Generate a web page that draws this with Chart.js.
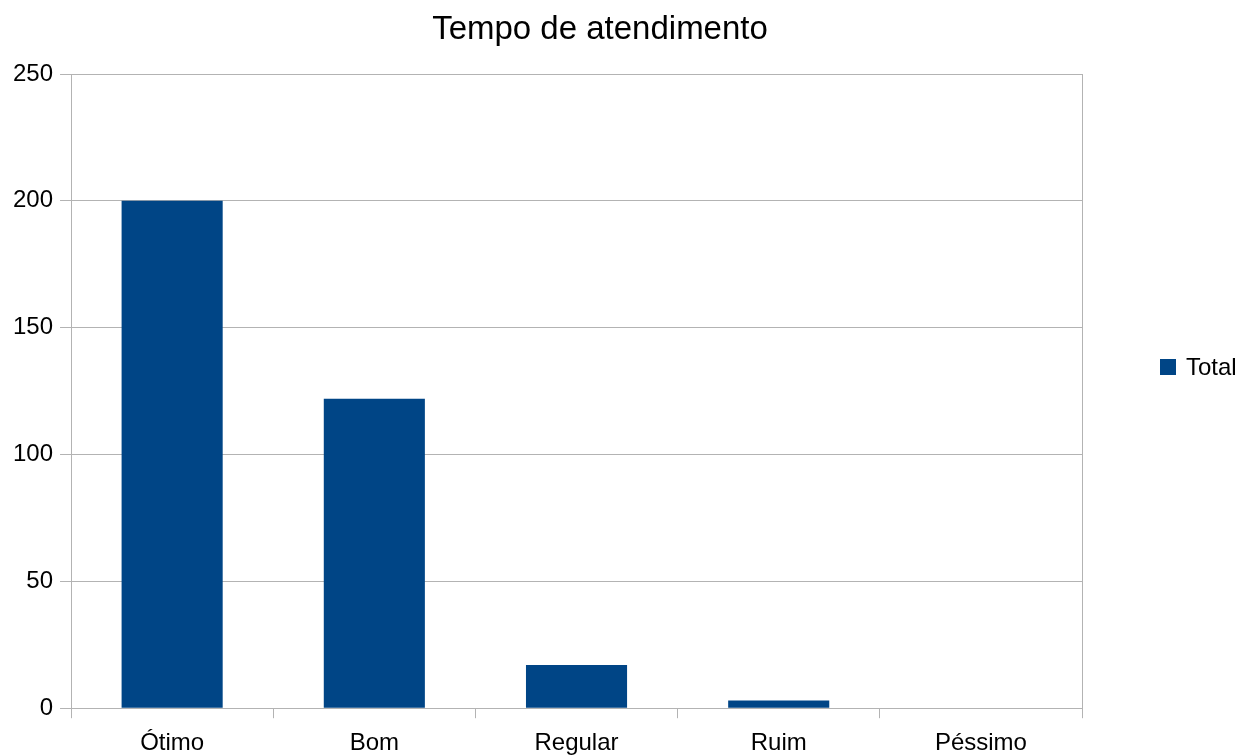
<!DOCTYPE html>
<html>
<head>
<meta charset="utf-8">
<script src="https://cdn.jsdelivr.net/npm/chart.js@4/dist/chart.umd.min.js"></script>
<style>
  body { margin: 0; background: #fff; }
  #wrap { position: relative; width: 1247px; height: 756px; }
  #title {
    position: absolute; top: 11px; left: 0; width: 1200px;
    text-align: center; font: 33px "Liberation Sans", Arial, sans-serif;
    line-height: 33px; color: #000;
  }
  #legendBox { position: absolute; left: 1160px; top: 359px; width: 16px; height: 16px; }
  #legendText {
    position: absolute; left: 1186px; top: 355px;
    font: 24px "Liberation Sans", Arial, sans-serif; line-height: 24px; color: #000;
  }
</style>
</head>
<body>
<div id="wrap">
  <canvas id="barChart" width="1247" height="756"></canvas>
  <div id="title"></div>
  <div id="legendBox"></div>
  <div id="legendText"></div>
</div>
<script>
const chartTitle = "Tempo de atendimento";
const categories = ["Ótimo", "Bom", "Regular", "Ruim", "Péssimo"];
const seriesName = "Total";
const totals = [200, 122, 17, 3, 0];
const yTickValues = [0, 50, 100, 150, 200, 250];

const barColor = "#004586";
const gridColor = "#b3b3b3";

document.getElementById("title").textContent = chartTitle;
document.getElementById("legendBox").style.background = barColor;
document.getElementById("legendText").textContent = seriesName;

Chart.defaults.font.family = "'Liberation Sans', Arial, sans-serif";
Chart.defaults.font.size = 24;
Chart.defaults.color = "#000";

var ctx = document.getElementById("barChart").getContext("2d");

var barChart = new Chart(ctx, {
  type: "bar",
  data: {
    labels: categories,
    datasets: [
      {
        label: seriesName,
        data: totals,
        backgroundColor: barColor,
        borderWidth: 0,
        barPercentage: 0.5,
        categoryPercentage: 1.0,
      },
    ],
  },
  options: {
    responsive: false,
    animation: false,
    layout: {
      padding: { left: 6, right: 165, top: 74, bottom: -13 },
    },
    plugins: {
      legend: { display: false },
      title: { display: false },
      tooltip: { enabled: false },
    },
    scales: {
      x: {
        grid: {
          // only the outer frame lines go through the plot, the rest are tick marks
          // (the last offset line has no tick, so its context has no index)
          color: (c) =>
            c.index === 0 || c.index === undefined ? gridColor : "transparent",
          tickColor: gridColor,
          tickLength: 10,
          offset: true,
        },
        border: { color: gridColor },
        ticks: { padding: 11, maxRotation: 0 },
      },
      y: {
        min: yTickValues[0],
        max: yTickValues[yTickValues.length - 1],
        grid: {
          color: gridColor,
          tickLength: 11,
        },
        border: { color: gridColor },
        ticks: {
          stepSize: yTickValues[1] - yTickValues[0],
          padding: 7,
        },
      },
    },
  },
});
</script>
</body>
</html>
